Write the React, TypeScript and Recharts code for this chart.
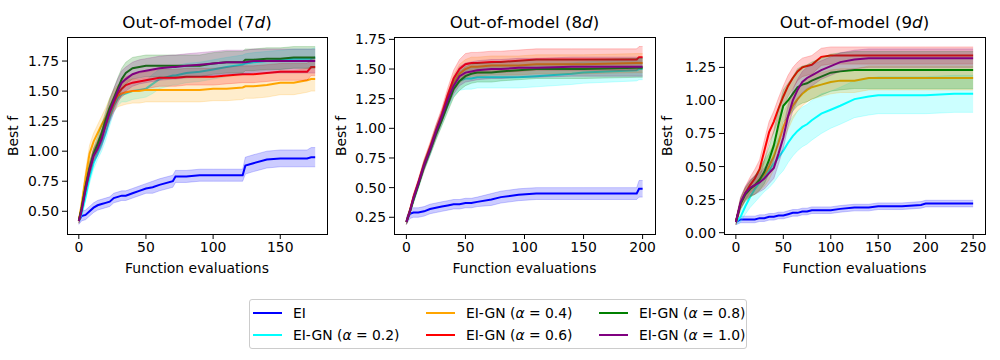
import { ComposedChart, Area, Line, XAxis, YAxis } from 'recharts';

const seriesLabels = ['EI', 'EI-GN (α = 0.2)', 'EI-GN (α = 0.4)', 'EI-GN (α = 0.6)', 'EI-GN (α = 0.8)', 'EI-GN (α = 1.0)'];
const seriesKeys = ['ei', 'a02', 'a04', 'a06', 'a08', 'a10'];
const seriesColors = ['#0000ff', '#00ffff', '#ffa500', '#ff0000', '#008000', '#800080'];

// ---- Out-of-model (7d) ----
const evals7 = [0, 2, 5, 8, 11, 14, 17, 20, 23, 26, 29, 32, 35, 40, 45, 50, 55, 60, 70, 72, 80, 90, 100, 110, 122, 124, 130, 140, 150, 160, 170, 173, 176];
const ei7 = [0.42, 0.46, 0.47, 0.5, 0.53, 0.55, 0.56, 0.57, 0.58, 0.61, 0.62, 0.63, 0.63, 0.65, 0.67, 0.69, 0.7, 0.72, 0.75, 0.79, 0.79, 0.8, 0.8, 0.8, 0.8, 0.88, 0.9, 0.93, 0.94, 0.94, 0.94, 0.95, 0.95];
const ei7Spread = [0.03, 0.04, 0.04, 0.04, 0.04, 0.04, 0.04, 0.04, 0.04, 0.04, 0.04, 0.04, 0.04, 0.04, 0.04, 0.04, 0.05, 0.05, 0.05, 0.05, 0.05, 0.05, 0.05, 0.05, 0.05, 0.07, 0.07, 0.07, 0.07, 0.07, 0.07, 0.08, 0.08];
const a02_7 = [0.42, 0.48, 0.62, 0.78, 0.9, 0.98, 1.06, 1.15, 1.27, 1.38, 1.44, 1.47, 1.48, 1.5, 1.51, 1.52, 1.56, 1.6, 1.63, 1.63, 1.65, 1.66, 1.68, 1.7, 1.72, 1.73, 1.74, 1.75, 1.76, 1.77, 1.77, 1.77, 1.78];
const a02_7Spread = [0.02, 0.03, 0.04, 0.05, 0.05, 0.05, 0.06, 0.06, 0.06, 0.06, 0.06, 0.06, 0.07, 0.07, 0.07, 0.07, 0.08, 0.08, 0.08, 0.08, 0.08, 0.08, 0.08, 0.08, 0.08, 0.08, 0.08, 0.08, 0.08, 0.08, 0.08, 0.08, 0.08];
const a04_7 = [0.42, 0.55, 0.78, 0.98, 1.08, 1.15, 1.22, 1.28, 1.36, 1.42, 1.46, 1.48, 1.49, 1.5, 1.5, 1.51, 1.51, 1.51, 1.51, 1.51, 1.51, 1.51, 1.52, 1.52, 1.53, 1.54, 1.54, 1.55, 1.57, 1.57, 1.59, 1.6, 1.6];
const a04_7Spread = [0.02, 0.04, 0.06, 0.07, 0.07, 0.07, 0.07, 0.08, 0.08, 0.09, 0.09, 0.1, 0.1, 0.1, 0.1, 0.1, 0.1, 0.1, 0.1, 0.1, 0.1, 0.1, 0.1, 0.1, 0.1, 0.1, 0.1, 0.1, 0.1, 0.1, 0.1, 0.1, 0.1];
const a06_7 = [0.42, 0.52, 0.7, 0.85, 0.97, 1.04, 1.12, 1.22, 1.32, 1.4, 1.48, 1.52, 1.55, 1.57, 1.58, 1.59, 1.6, 1.61, 1.61, 1.61, 1.62, 1.62, 1.62, 1.63, 1.64, 1.64, 1.64, 1.65, 1.66, 1.66, 1.66, 1.7, 1.7];
const a06_7Spread = [0.02, 0.03, 0.04, 0.05, 0.05, 0.05, 0.06, 0.06, 0.06, 0.06, 0.06, 0.07, 0.07, 0.07, 0.07, 0.07, 0.07, 0.07, 0.07, 0.07, 0.07, 0.07, 0.07, 0.07, 0.07, 0.07, 0.07, 0.07, 0.07, 0.07, 0.07, 0.07, 0.07];
const a08_7 = [0.42, 0.52, 0.7, 0.86, 0.98, 1.06, 1.15, 1.26, 1.36, 1.44, 1.52, 1.6, 1.65, 1.69, 1.7, 1.71, 1.71, 1.71, 1.71, 1.71, 1.71, 1.71, 1.73, 1.74, 1.74, 1.76, 1.76, 1.77, 1.77, 1.78, 1.78, 1.78, 1.78];
const a08_7Spread = [0.02, 0.03, 0.04, 0.05, 0.05, 0.06, 0.07, 0.07, 0.08, 0.08, 0.09, 0.09, 0.09, 0.09, 0.09, 0.09, 0.09, 0.09, 0.09, 0.09, 0.09, 0.09, 0.09, 0.09, 0.09, 0.09, 0.09, 0.09, 0.09, 0.09, 0.09, 0.09, 0.09];
const a10_7 = [0.42, 0.5, 0.68, 0.84, 0.96, 1.02, 1.1, 1.22, 1.33, 1.42, 1.5, 1.57, 1.6, 1.64, 1.66, 1.67, 1.68, 1.69, 1.7, 1.7, 1.71, 1.72, 1.73, 1.74, 1.74, 1.74, 1.75, 1.75, 1.75, 1.75, 1.75, 1.75, 1.75];
const a10_7Spread = [0.02, 0.03, 0.04, 0.05, 0.05, 0.06, 0.07, 0.08, 0.09, 0.1, 0.1, 0.1, 0.1, 0.1, 0.1, 0.1, 0.1, 0.1, 0.1, 0.1, 0.1, 0.1, 0.1, 0.1, 0.1, 0.1, 0.1, 0.1, 0.1, 0.1, 0.1, 0.1, 0.1];

// ---- Out-of-model (8d) ----
const evals8 = [0, 3, 6, 10, 15, 20, 25, 30, 35, 40, 45, 50, 55, 60, 72, 80, 95, 110, 140, 150, 195, 197, 200];
const ei8 = [0.22, 0.28, 0.29, 0.29, 0.3, 0.32, 0.33, 0.34, 0.35, 0.36, 0.36, 0.37, 0.37, 0.38, 0.4, 0.42, 0.44, 0.45, 0.45, 0.45, 0.45, 0.49, 0.49];
const ei8Spread = [0.03, 0.04, 0.04, 0.04, 0.04, 0.04, 0.04, 0.04, 0.04, 0.04, 0.04, 0.04, 0.04, 0.04, 0.05, 0.05, 0.05, 0.05, 0.05, 0.05, 0.05, 0.07, 0.07];
const a02_8 = [0.21, 0.3, 0.4, 0.52, 0.68, 0.81, 0.95, 1.08, 1.22, 1.34, 1.4, 1.42, 1.42, 1.43, 1.43, 1.43, 1.43, 1.44, 1.46, 1.47, 1.49, 1.5, 1.5];
const a02_8Spread = [0.02, 0.02, 0.03, 0.03, 0.03, 0.04, 0.04, 0.05, 0.06, 0.07, 0.08, 0.09, 0.09, 0.09, 0.09, 0.09, 0.09, 0.09, 0.09, 0.09, 0.09, 0.09, 0.09];
const a04_8 = [0.21, 0.3, 0.41, 0.53, 0.69, 0.83, 0.97, 1.1, 1.25, 1.38, 1.46, 1.5, 1.52, 1.52, 1.53, 1.53, 1.53, 1.54, 1.54, 1.54, 1.55, 1.55, 1.55];
const a04_8Spread = [0.02, 0.02, 0.03, 0.03, 0.04, 0.04, 0.05, 0.05, 0.06, 0.07, 0.08, 0.08, 0.08, 0.08, 0.08, 0.08, 0.08, 0.08, 0.08, 0.08, 0.08, 0.08, 0.08];
const a06_8 = [0.21, 0.31, 0.42, 0.54, 0.7, 0.84, 0.98, 1.12, 1.28, 1.42, 1.5, 1.54, 1.55, 1.55, 1.56, 1.56, 1.57, 1.58, 1.58, 1.58, 1.58, 1.6, 1.6];
const a06_8Spread = [0.02, 0.02, 0.03, 0.03, 0.04, 0.04, 0.05, 0.05, 0.06, 0.07, 0.08, 0.09, 0.09, 0.09, 0.09, 0.09, 0.09, 0.09, 0.09, 0.09, 0.09, 0.09, 0.09];
const a08_8 = [0.21, 0.3, 0.4, 0.52, 0.68, 0.81, 0.95, 1.07, 1.2, 1.33, 1.4, 1.44, 1.46, 1.47, 1.47, 1.48, 1.49, 1.5, 1.5, 1.5, 1.51, 1.51, 1.51];
const a08_8Spread = [0.02, 0.02, 0.03, 0.03, 0.04, 0.04, 0.05, 0.05, 0.06, 0.07, 0.08, 0.08, 0.08, 0.08, 0.08, 0.08, 0.08, 0.08, 0.08, 0.08, 0.08, 0.08, 0.08];
const a10_8 = [0.21, 0.3, 0.41, 0.53, 0.69, 0.82, 0.97, 1.1, 1.24, 1.36, 1.44, 1.47, 1.48, 1.49, 1.5, 1.5, 1.51, 1.51, 1.52, 1.52, 1.52, 1.52, 1.52];
const a10_8Spread = [0.02, 0.02, 0.03, 0.03, 0.04, 0.04, 0.05, 0.05, 0.06, 0.07, 0.08, 0.08, 0.08, 0.08, 0.08, 0.08, 0.08, 0.08, 0.08, 0.08, 0.08, 0.08, 0.08];

// ---- Out-of-model (9d) ----
const evals9 = [0, 5, 10, 15, 20, 25, 30, 35, 40, 45, 50, 55, 60, 65, 70, 75, 80, 90, 100, 110, 125, 140, 150, 175, 195, 200, 230, 250];
const ei9 = [0.08, 0.1, 0.1, 0.1, 0.1, 0.11, 0.11, 0.12, 0.12, 0.13, 0.13, 0.14, 0.15, 0.15, 0.16, 0.16, 0.17, 0.17, 0.17, 0.18, 0.19, 0.19, 0.2, 0.2, 0.21, 0.22, 0.22, 0.22];
const ei9Spread = [0.02, 0.025, 0.025, 0.025, 0.025, 0.025, 0.025, 0.025, 0.025, 0.025, 0.025, 0.025, 0.025, 0.025, 0.025, 0.025, 0.025, 0.025, 0.025, 0.025, 0.025, 0.025, 0.025, 0.025, 0.025, 0.025, 0.025, 0.025];
const a02_9 = [0.08, 0.12, 0.2, 0.27, 0.33, 0.38, 0.43, 0.47, 0.52, 0.57, 0.62, 0.68, 0.73, 0.77, 0.8, 0.82, 0.85, 0.9, 0.93, 0.96, 1.01, 1.03, 1.04, 1.04, 1.04, 1.04, 1.05, 1.05];
const a02_9Spread = [0.02, 0.04, 0.06, 0.08, 0.1, 0.11, 0.12, 0.13, 0.14, 0.14, 0.15, 0.15, 0.15, 0.15, 0.15, 0.15, 0.15, 0.15, 0.14, 0.14, 0.14, 0.14, 0.14, 0.14, 0.14, 0.14, 0.14, 0.14];
const a04_9 = [0.08, 0.22, 0.29, 0.33, 0.36, 0.4, 0.44, 0.5, 0.58, 0.68, 0.8, 0.88, 0.96, 1.01, 1.05, 1.08, 1.1, 1.12, 1.14, 1.15, 1.15, 1.17, 1.17, 1.17, 1.17, 1.17, 1.17, 1.17];
const a04_9Spread = [0.02, 0.04, 0.05, 0.06, 0.07, 0.08, 0.09, 0.1, 0.1, 0.1, 0.1, 0.1, 0.1, 0.09, 0.09, 0.09, 0.09, 0.09, 0.09, 0.09, 0.09, 0.09, 0.09, 0.09, 0.09, 0.09, 0.09, 0.09];
const a06_9 = [0.08, 0.22, 0.3, 0.36, 0.41, 0.48, 0.62, 0.76, 0.84, 0.94, 1.03, 1.11, 1.17, 1.22, 1.25, 1.26, 1.27, 1.33, 1.34, 1.34, 1.34, 1.34, 1.34, 1.34, 1.34, 1.34, 1.34, 1.34];
const a06_9Spread = [0.02, 0.04, 0.05, 0.06, 0.07, 0.07, 0.08, 0.08, 0.08, 0.08, 0.08, 0.08, 0.08, 0.07, 0.07, 0.07, 0.07, 0.065, 0.065, 0.065, 0.065, 0.065, 0.065, 0.065, 0.065, 0.065, 0.065, 0.065];
const a08_9 = [0.08, 0.22, 0.29, 0.33, 0.36, 0.4, 0.46, 0.55, 0.66, 0.82, 0.96, 1.0, 1.05, 1.1, 1.12, 1.13, 1.15, 1.18, 1.21, 1.22, 1.23, 1.23, 1.23, 1.23, 1.23, 1.23, 1.23, 1.23];
const a08_9Spread = [0.02, 0.04, 0.05, 0.06, 0.07, 0.08, 0.09, 0.1, 0.11, 0.12, 0.12, 0.13, 0.13, 0.14, 0.14, 0.14, 0.14, 0.14, 0.14, 0.14, 0.14, 0.14, 0.14, 0.14, 0.14, 0.14, 0.14, 0.14];
const a10_9 = [0.08, 0.23, 0.3, 0.34, 0.36, 0.38, 0.41, 0.45, 0.49, 0.6, 0.72, 0.88, 1.0, 1.08, 1.14, 1.17, 1.19, 1.23, 1.26, 1.29, 1.31, 1.32, 1.32, 1.32, 1.32, 1.32, 1.32, 1.32];
const a10_9Spread = [0.02, 0.04, 0.05, 0.06, 0.07, 0.07, 0.08, 0.08, 0.08, 0.08, 0.08, 0.08, 0.08, 0.08, 0.08, 0.08, 0.08, 0.07, 0.07, 0.07, 0.07, 0.07, 0.07, 0.07, 0.07, 0.07, 0.07, 0.07];

const xTicks7 = [0, 50, 100, 150];
const yTicks7 = [0.5, 0.75, 1.0, 1.25, 1.5, 1.75];
const xTicks8 = [0, 50, 100, 150, 200];
const yTicks8 = [0.25, 0.5, 0.75, 1.0, 1.25, 1.5, 1.75];
const xTicks9 = [0, 50, 100, 150, 200, 250];
const yTicks9 = [0, 0.25, 0.5, 0.75, 1.0, 1.25];

const FONT = '"DejaVu Sans", sans-serif';
const PLOT_TOP = 37;
const PLOT_H = 197;

function buildRows(evals: number[], means: number[][], spreads: number[][]) {
  return evals.map((x, i) => {
    const row: Record<string, any> = { x };
    seriesKeys.forEach((k, s) => {
      row[k] = means[s][i];
      row[k + 'Band'] = [means[s][i] - spreads[s][i], means[s][i] + spreads[s][i]];
    });
    return row;
  });
}

type PanelProps = {
  left: number;
  width: number;
  yAxisWidth: number;
  rightMargin: number;
  dim: string;
  rows: Record<string, any>[];
  xDomain: [number, number];
  yDomain: [number, number];
  xTicks: number[];
  yTicks: number[];
  yLabelX: number;
};

function Panel(p: PanelProps) {
  const plotLeft = p.left + p.yAxisWidth;
  const plotW = p.width - p.yAxisWidth - p.rightMargin;
  const tickStyle = { fill: '#000', fontSize: 13.9, fontFamily: FONT };
  // band then line for each series, in plotting order, so later bands tint earlier lines
  const marks: any[] = [];
  seriesKeys.forEach((k, s) => {
    marks.push(
      <Area
        key={k + 'Band'}
        dataKey={k + 'Band'}
        type="linear"
        stroke={seriesColors[s]}
        strokeOpacity={0.2}
        strokeWidth={1}
        fill={seriesColors[s]}
        fillOpacity={0.2}
        dot={false}
        activeDot={false}
        isAnimationActive={false}
        {...({ zIndex: 110 + s * 2 } as any)}
      />
    );
    marks.push(
      <Line
        key={k}
        dataKey={k}
        type="linear"
        stroke={seriesColors[s]}
        strokeWidth={2}
        dot={false}
        activeDot={false}
        isAnimationActive={false}
        {...({ zIndex: 111 + s * 2 } as any)}
      />
    );
  });
  return (
    <>
      <div style={{ position: 'absolute', left: p.left, top: 0 }}>
        <ComposedChart
          width={p.width}
          height={280}
          data={p.rows}
          margin={{ top: PLOT_TOP, right: p.rightMargin, bottom: 0, left: 0 }}
        >
          <XAxis
            dataKey="x"
            type="number"
            domain={p.xDomain}
            ticks={p.xTicks}
            interval={0}
            height={46}
            axisLine={false}
            tickSize={5}
            tickMargin={3}
            tickLine={{ stroke: '#000' }}
            tick={tickStyle}
            allowDataOverflow
          />
          <YAxis
            type="number"
            domain={p.yDomain}
            ticks={p.yTicks}
            interval={0}
            width={p.yAxisWidth}
            axisLine={false}
            tickSize={5}
            tickMargin={3}
            tickLine={{ stroke: '#000' }}
            tick={tickStyle}
            tickFormatter={(v: number) => v.toFixed(2)}
            allowDataOverflow
          />
          {marks}
        </ComposedChart>
      </div>
      <div
        style={{
          position: 'absolute',
          left: plotLeft - 0.5,
          top: PLOT_TOP - 0.5,
          width: plotW + 1,
          height: PLOT_H + 1,
          border: '1px solid #000',
          boxSizing: 'border-box',
          pointerEvents: 'none',
        }}
      />
      <div
        style={{
          position: 'absolute',
          left: plotLeft,
          width: plotW,
          top: 11,
          lineHeight: '22px',
          fontSize: 16.7,
          textAlign: 'center',
          whiteSpace: 'nowrap',
        }}
      >
        Out-of-model ({p.dim}
        <i>d</i>)
      </div>
      <div
        style={{
          position: 'absolute',
          left: plotLeft,
          width: plotW,
          top: 259,
          lineHeight: '18px',
          fontSize: 13.9,
          textAlign: 'center',
          whiteSpace: 'nowrap',
        }}
      >
        Function evaluations
      </div>
      <div
        style={{
          position: 'absolute',
          left: p.yLabelX - 50,
          width: 100,
          top: PLOT_TOP + PLOT_H / 2 - 9,
          lineHeight: '18px',
          fontSize: 13.9,
          textAlign: 'center',
          transform: 'rotate(-90deg)',
          whiteSpace: 'nowrap',
        }}
      >
        Best f
      </div>
    </>
  );
}

function LegendItem({ idx, x, y }: { idx: number; x: number; y: number }) {
  const label = seriesLabels[idx];
  const m = label.match(/^(.*\()α( = .*)$/);
  return (
    <div style={{ position: 'absolute', left: x, top: y - 10, height: 20, display: 'flex', alignItems: 'center' }}>
      <svg width={29} height={4} style={{ marginRight: 11 }}>
        <line x1={0} y1={2} x2={29} y2={2} stroke={seriesColors[idx]} strokeWidth={2} />
      </svg>
      <span style={{ fontSize: 13.9, whiteSpace: 'nowrap' }}>
        {m ? (
          <>
            {m[1]}
            <i>α</i>
            {m[2]}
          </>
        ) : (
          label
        )}
      </span>
    </div>
  );
}

export default function App() {
  const rows7 = buildRows(evals7, [ei7, a02_7, a04_7, a06_7, a08_7, a10_7], [ei7Spread, a02_7Spread, a04_7Spread, a06_7Spread, a08_7Spread, a10_7Spread]);
  const rows8 = buildRows(evals8, [ei8, a02_8, a04_8, a06_8, a08_8, a10_8], [ei8Spread, a02_8Spread, a04_8Spread, a06_8Spread, a08_8Spread, a10_8Spread]);
  const rows9 = buildRows(evals9, [ei9, a02_9, a04_9, a06_9, a08_9, a10_9], [ei9Spread, a02_9Spread, a04_9Spread, a06_9Spread, a08_9Spread, a10_9Spread]);

  const colX = [253, 426, 599];
  const rowY = [313, 335];
  const order = [
    [0, 0, 0],
    [1, 0, 1],
    [2, 1, 0],
    [3, 1, 1],
    [4, 2, 0],
    [5, 2, 1],
  ];

  return (
    <div
      style={{
        position: 'absolute',
        left: 0,
        top: 0,
        width: 1000,
        height: 360,
        background: '#fff',
        fontFamily: FONT,
        color: '#000',
      }}
    >
      <Panel left={0} width={340} yAxisWidth={67} rightMargin={13} dim="7" rows={rows7} xDomain={[-8.8, 184.8]} yDomain={[0.311, 1.95]} xTicks={xTicks7} yTicks={yTicks7} yLabelX={13} />
      <Panel left={330} width={330} yAxisWidth={64} rightMargin={5} dim="8" rows={rows8} xDomain={[-10.5, 210.5]} yDomain={[0.109, 1.77]} xTicks={xTicks8} yTicks={yTicks8} yLabelX={341} />
      <Panel left={660} width={340} yAxisWidth={64} rightMargin={15} dim="9" rows={rows9} xDomain={[-12.5, 262.5]} yDomain={[-0.01, 1.48]} xTicks={xTicks9} yTicks={yTicks9} yLabelX={667} />
      <div
        style={{
          position: 'absolute',
          left: 249,
          top: 299,
          width: 498,
          height: 50,
          border: '1px solid #cccccc',
          borderRadius: 3,
          boxSizing: 'border-box',
          background: 'rgba(255,255,255,0.8)',
        }}
      />
      {order.map(([idx, c, r]) => (
        <LegendItem key={idx} idx={idx} x={colX[c]} y={rowY[r]} />
      ))}
    </div>
  );
}
